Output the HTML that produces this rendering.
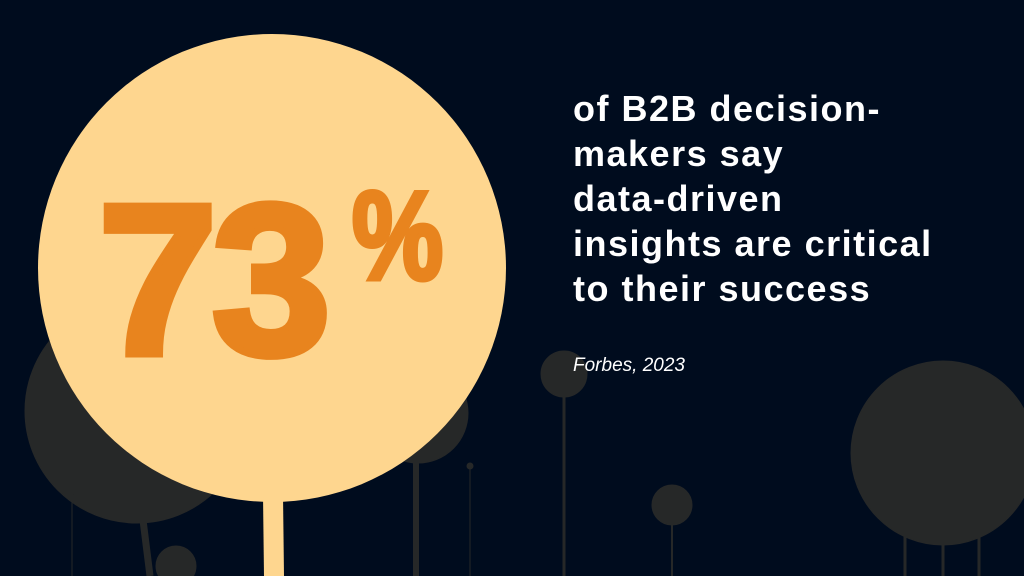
<!DOCTYPE html>
<html><head><style>
body{margin:0;width:1024px;height:576px;overflow:hidden;background:#000c1e;position:relative;font-family:"Liberation Sans",sans-serif}
svg{position:absolute;left:0;top:0}
.t{position:absolute;left:573px;top:86px;color:#fff;font-weight:bold;font-size:36px;line-height:45px;letter-spacing:1.5px}
.f{position:absolute;left:573px;top:355px;color:#fff;font-style:italic;font-size:19px}
.n{position:absolute;left:98px;top:172px;color:#e8841e;font-weight:900;font-size:215px;line-height:215px;letter-spacing:-6px;-webkit-text-stroke:7px #e8841e}
.p{position:absolute;left:352px;top:174px;color:#e8841e;font-weight:900;font-size:125px;line-height:125px;-webkit-text-stroke:5px #e8841e;transform:scaleX(0.82);transform-origin:0 0}
</style></head><body>
<svg width="1024" height="576">
<g fill="#262828" stroke="#262828">
<circle cx="137" cy="411" r="112"/>
<line x1="143" y1="520" x2="150" y2="576" stroke-width="7"/>
<circle cx="418" cy="413" r="50"/>
<line x1="416" y1="455" x2="416" y2="576" stroke-width="6"/>
<circle cx="470" cy="466" r="3"/>
<line x1="470" y1="466" x2="470" y2="576" stroke-width="1"/>
<circle cx="72" cy="493" r="3"/>
<line x1="72" y1="493" x2="72" y2="576" stroke-width="1"/>
<circle cx="176" cy="566" r="20"/>
<circle cx="564" cy="374" r="23"/>
<line x1="564" y1="374" x2="564" y2="576" stroke-width="3"/>
<circle cx="672" cy="505" r="20"/>
<line x1="672" y1="505" x2="672" y2="576" stroke-width="2"/>
<circle cx="943" cy="453" r="92"/>
<line x1="905" y1="500" x2="905" y2="576" stroke-width="3"/>
<line x1="943" y1="500" x2="943" y2="576" stroke-width="3"/>
<line x1="979" y1="500" x2="979" y2="576" stroke-width="3"/>
</g>
<circle cx="272" cy="268" r="234" fill="#fed68f"/>
<polygon points="263,495 283,495 284,576 264,576" fill="#fed68f"/>
</svg>
<div class="n">73</div>
<div class="p">%</div>
<div class="t">of B2B decision-<br>makers say<br>data-driven<br>insights are critical<br>to their success</div>
<div class="f">Forbes, 2023</div>
</body></html>
